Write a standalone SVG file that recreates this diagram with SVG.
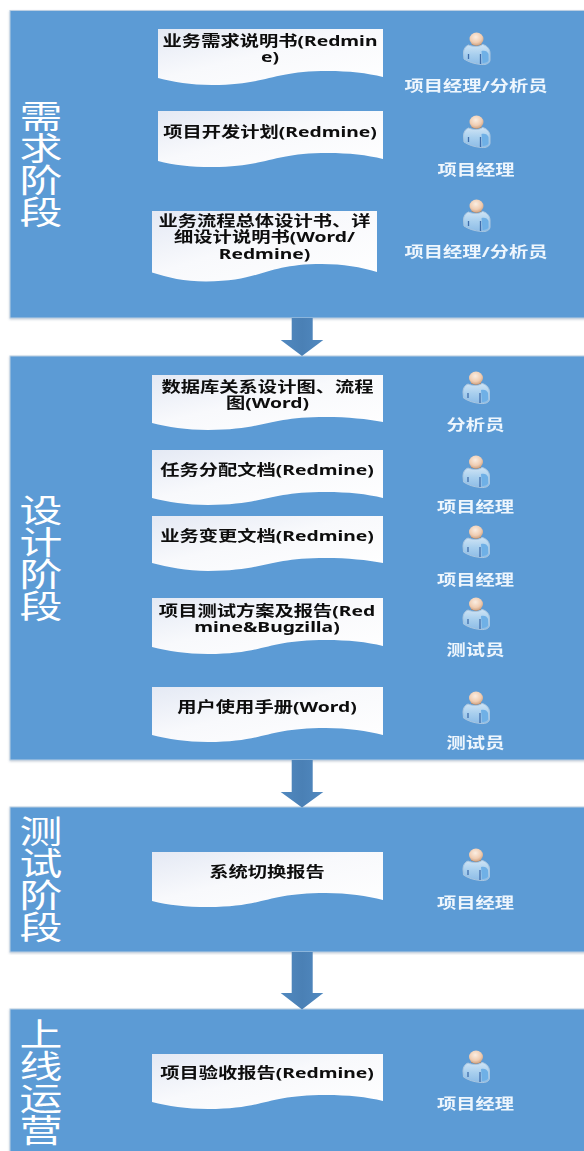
<svg xmlns="http://www.w3.org/2000/svg" xmlns:xlink="http://www.w3.org/1999/xlink" width="584" height="1151" viewBox="0 0 584 1151">
<style>
.stage{fill:#5b9bd5;stroke:#bccfe2;stroke-width:1;filter:url(#sh)}
.doc{fill:url(#docg)}
.arrow{fill:url(#arrg)}
text{text-anchor:middle;font-family:"Noto Sans","Noto Sans CJK SC",sans-serif}
.title{font-family:"Noto Sans CJK SC",sans-serif;font-size:32px;fill:#fff}
.dt{font-size:14.5px;font-weight:700;fill:#0a0a0a;filter:url(#soft)}
.role{font-size:14.5px;font-weight:700;fill:#eef6fd;filter:url(#soft)}
</style>
<defs>
<filter id="sh" x="-2%" y="-2%" width="104%" height="104%"><feDropShadow dx="0" dy="1" stdDeviation="1.2" flood-color="#8a9bb0" flood-opacity=".5"/></filter>
<filter id="soft" x="-5%" y="-20%" width="110%" height="140%"><feGaussianBlur stdDeviation="0.35"/></filter>
<linearGradient id="docg" x1="0" y1="0" x2="1" y2="1"><stop offset="0" stop-color="#e4e9f4"/><stop offset=".45" stop-color="#f8f9fc"/><stop offset="1" stop-color="#fff"/></linearGradient>
<linearGradient id="arrg" x1="0" y1="0" x2="1" y2="0"><stop offset="0" stop-color="#5189c0"/><stop offset=".5" stop-color="#4a80b5"/><stop offset="1" stop-color="#5189c0"/></linearGradient>
<radialGradient id="headg" cx=".45" cy=".35" r=".7"><stop offset="0" stop-color="#fbeee2"/><stop offset=".6" stop-color="#f0cdb2"/><stop offset="1" stop-color="#c99a78"/></radialGradient>
<linearGradient id="bodyg" x1="0" y1="0" x2="0" y2="1"><stop offset="0" stop-color="#cfe4f5"/><stop offset=".5" stop-color="#a8cfee"/><stop offset="1" stop-color="#8dbce6"/></linearGradient>
<symbol id="person" overflow="visible">
<path d="M-8 6C-11 7-13 10-13 14L-12.5 20C-8 23-2 25 5 25.5C10 26 13.500 24 13.500 21L13.500 14C13.500 9 9 6 6 5.500C3 8-4 8-8 6Z" fill="url(#bodyg)" stroke="#a9c6e0" stroke-width="1"/>
<path d="M5 12C8 11 11 12 12 15L12 21C12 23 9 24 6 24Z" fill="#6fb0e6"/>
<path d="M-5 5.500C-2 7 2 7 5 5.500L4 3H-4Z" fill="#b5855f"/>
<ellipse rx="7" ry="6.500" fill="url(#headg)"/>
<path d="M-8 15V20M4 15V25" stroke="#3f6dab" stroke-width="1.300" fill="none"/>
</symbol>
</defs>

<g id="stage-1"><rect class="stage" x="10" y="10.500" width="580" height="307.500"/><text class="title" transform="translate(41 128) scale(1.34 1)"><tspan x="0">需</tspan><tspan x="0" dy="32">求</tspan><tspan x="0" dy="32">阶</tspan><tspan x="0" dy="32">段</tspan></text></g>
<g id="stage-2"><rect class="stage" x="10" y="356" width="580" height="404"/><text class="title" transform="translate(41 522) scale(1.34 1)"><tspan x="0">设</tspan><tspan x="0" dy="32">计</tspan><tspan x="0" dy="32">阶</tspan><tspan x="0" dy="32">段</tspan></text></g>
<g id="stage-3"><rect class="stage" x="10" y="807" width="580" height="145"/><text class="title" transform="translate(41 843) scale(1.34 1)"><tspan x="0">测</tspan><tspan x="0" dy="32">试</tspan><tspan x="0" dy="32">阶</tspan><tspan x="0" dy="32">段</tspan></text></g>
<g id="stage-4"><rect class="stage" x="10" y="1009" width="580" height="160"/><text class="title" transform="translate(41 1046) scale(1.34 1)"><tspan x="0">上</tspan><tspan x="0" dy="32">线</tspan><tspan x="0" dy="32">运</tspan><tspan x="0" dy="32">营</tspan></text></g>

<g id="connectors">
<path class="arrow" d="M291.700 318H312.700V340H323.300L302 356L280.700 340H291.700Z"/>
<path class="arrow" d="M291.700 760H312.700V792H323.300L302 807.500L280.700 792H291.700Z"/>
<path class="arrow" d="M291.700 952H312.700V993H323.300L302 1009.500L280.700 993H291.700Z"/>
</g>

<g id="doc-1"><path class="doc" d="M158 29h225v48c-16-4-34-6-55-6c-58 0-60 14-116 14c-22 0-38-3-54-7z"/><text class="dt" transform="translate(270 45.500) scale(1.33 1)"><tspan x="0">业务需求说明书(Redmin</tspan><tspan x="0" dy="17">e)</tspan></text></g>
<g id="doc-2"><path class="doc" d="M158 111h225v48c-16-4-34-6-55-6c-58 0-60 14-116 14c-22 0-38-2-54-6z"/><text class="dt" transform="translate(270 137) scale(1.33 1)">项目开发计划(Redmine)</text></g>
<g id="doc-3"><path class="doc" d="M152 211h225v61c-16-5-34-8-55-8c-58 0-60 17.500-116 17.500c-22 0-38-4-54-9z"/><text class="dt" transform="translate(264.500 226) scale(1.33 1)"><tspan x="0">业务流程总体设计书、详</tspan><tspan x="0" dy="16.500">细设计说明书(Word/</tspan><tspan x="0" dy="16.500">Redmine)</tspan></text></g>
<g id="doc-4"><path class="doc" d="M152 375h231v47c-16-3-35-5-57-5c-60 0-61 13-118 13c-22 0-40-3-56-7z"/><text class="dt" transform="translate(267.500 391.500) scale(1.33 1)"><tspan x="0">数据库关系设计图、流程</tspan><tspan x="0" dy="16.500">图(Word)</tspan></text></g>
<g id="doc-5"><path class="doc" d="M152 450h231v48c-16-4-35-6-57-6c-60 0-61 13-118 13c-22 0-40-3-56-7z"/><text class="dt" transform="translate(267 475) scale(1.33 1)">任务分配文档(Redmine)</text></g>
<g id="doc-6"><path class="doc" d="M152 516h231v47c-16-3-35-5-57-5c-60 0-61 13-118 13c-22 0-40-4-56-8z"/><text class="dt" transform="translate(267 540.500) scale(1.33 1)">业务变更文档(Redmine)</text></g>
<g id="doc-7"><path class="doc" d="M152 598h231v48c-16-4-35-6-57-6c-60 0-61 14-118 14c-22 0-40-3-56-7z"/><text class="dt" transform="translate(267 616) scale(1.33 1)"><tspan x="0">项目测试方案及报告(Red</tspan><tspan x="0" dy="16">mine&amp;Bugzilla)</tspan></text></g>
<g id="doc-8"><path class="doc" d="M152 687h231v48c-16-4-35-7-57-7c-60 0-61 14-118 14c-22 0-40-3-56-7z"/><text class="dt" transform="translate(267 712) scale(1.33 1)">用户使用手册(Word)</text></g>
<g id="doc-9"><path class="doc" d="M152 852h231v48c-16-4-35-7-57-7c-60 0-61 14-118 14c-22 0-40-2-56-6z"/><text class="dt" transform="translate(267 877) scale(1.33 1)">系统切换报告</text></g>
<g id="doc-10"><path class="doc" d="M152 1054h231v47c-16-4-35-6-57-6c-60 0-61 14-118 14c-22 0-40-3-56-7z"/><text class="dt" transform="translate(267 1078) scale(1.33 1)">项目验收报告(Redmine)</text></g>

<g id="person-1"><use xlink:href="#person" href="#person" x="476.500" y="39"/><text class="role" transform="translate(476 90.500) scale(1.33 1)">项目经理/分析员</text></g>
<g id="person-2"><use xlink:href="#person" href="#person" x="476.500" y="122"/><text class="role" transform="translate(476 174.500) scale(1.33 1)">项目经理</text></g>
<g id="person-3"><use xlink:href="#person" href="#person" x="476.500" y="206"/><text class="role" transform="translate(476 257) scale(1.33 1)">项目经理/分析员</text></g>
<g id="person-4"><use xlink:href="#person" href="#person" x="476" y="378"/><text class="role" transform="translate(475.500 429.500) scale(1.33 1)">分析员</text></g>
<g id="person-5"><use xlink:href="#person" href="#person" x="476" y="462"/><text class="role" transform="translate(475.500 512) scale(1.33 1)">项目经理</text></g>
<g id="person-6"><use xlink:href="#person" href="#person" x="476" y="532"/><text class="role" transform="translate(475.500 584.500) scale(1.33 1)">项目经理</text></g>
<g id="person-7"><use xlink:href="#person" href="#person" x="476" y="604"/><text class="role" transform="translate(475.500 654.500) scale(1.33 1)">测试员</text></g>
<g id="person-8"><use xlink:href="#person" href="#person" x="476" y="698"/><text class="role" transform="translate(475.500 748) scale(1.33 1)">测试员</text></g>
<g id="person-9"><use xlink:href="#person" href="#person" x="476" y="855"/><text class="role" transform="translate(475.500 908) scale(1.33 1)">项目经理</text></g>
<g id="person-10"><use xlink:href="#person" href="#person" x="476" y="1057"/><text class="role" transform="translate(475.500 1109) scale(1.33 1)">项目经理</text></g>
</svg>
